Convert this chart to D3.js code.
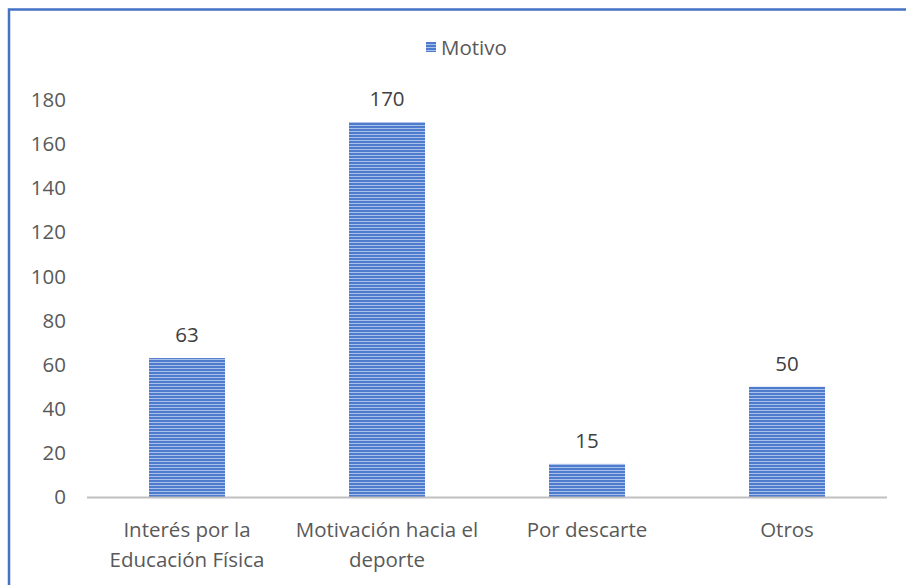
<!DOCTYPE html>
<html><head><meta charset="utf-8">
<script src="https://cdn.jsdelivr.net/npm/d3@7"></script>
<style>html,body{margin:0;padding:0;background:#fff;}svg{display:block;}</style>
</head><body>
<script>
const categories = [["Interés por la","Educación Física"],["Motivación hacia el","deporte"],["Por descarte"],["Otros"]];
const values = [63,170,15,50];
const seriesName = "Motivo";
const yTicks = [0,20,40,60,80,100,120,140,160,180];

const W=906,H=585;
const svg=d3.select("body").append("svg").attr("width",W).attr("height",H);
const font="'Open Sans', 'Liberation Sans', sans-serif";
const fs=20.5;
const defs=svg.append("defs");
const pat=defs.append("pattern").attr("id","stripes").attr("patternUnits","userSpaceOnUse").attr("width",4).attr("height",3);
pat.append("rect").attr("width",4).attr("height",3).attr("fill","#4f7bcc");
pat.append("rect").attr("y",2).attr("width",4).attr("height",1).attr("fill","#a9c0ea");

svg.append("rect").attr("x",9).attr("y",9.5).attr("width",W+20).attr("height",H+20).attr("fill","#fff").attr("stroke","#4472c4").attr("stroke-width",2.5);

const x=d3.scaleBand().domain(d3.range(categories.length)).range([87,887]).paddingInner(0.62).paddingOuter(0.31);
const y=d3.scaleLinear().domain([0,180]).range([497,100]);

const ya=svg.append("g").attr("transform","translate(70,0)").call(d3.axisLeft(y).tickValues(yTicks).tickSize(0).tickPadding(4));
ya.select(".domain").remove();
ya.selectAll("text").attr("font-family",font).attr("font-size",fs).attr("fill","#595959");

svg.selectAll(".bar").data(values).join("rect").attr("class","bar")
 .attr("x",(d,i)=>x(i)).attr("width",x.bandwidth()).attr("y",d=>y(d)).attr("height",d=>y(0)-y(d)).attr("fill","url(#stripes)");

svg.append("line").attr("x1",87).attr("x2",887).attr("y1",y(0)+0.5).attr("y2",y(0)+0.5).attr("stroke","#bfbfbf").attr("stroke-width",2);

svg.selectAll(".val").data(values).join("text").attr("class","val")
 .attr("x",(d,i)=>x(i)+x.bandwidth()/2).attr("y",d=>y(d)-16).attr("text-anchor","middle")
 .attr("font-family",font).attr("font-size",fs).attr("fill","#404040").text(d=>d);

const cl=svg.selectAll(".cat").data(categories).join("text").attr("class","cat")
 .attr("x",(d,i)=>x(i)+x.bandwidth()/2).attr("y",537).attr("text-anchor","middle")
 .attr("font-family",font).attr("font-size",fs).attr("fill","#595959");
cl.selectAll("tspan").data(d=>d).join("tspan").attr("x",function(){return this.parentNode.getAttribute("x");})
 .attr("dy",(d,i)=>i?30:0).text(d=>d);

const lg=svg.append("g");
lg.append("rect").attr("x",426).attr("y",42).attr("width",10).attr("height",10).attr("fill","url(#stripes)");
lg.append("text").attr("x",441).attr("y",55).attr("font-family",font).attr("font-size",fs).attr("fill","#595959").text(seriesName);
</script>
</body></html>
